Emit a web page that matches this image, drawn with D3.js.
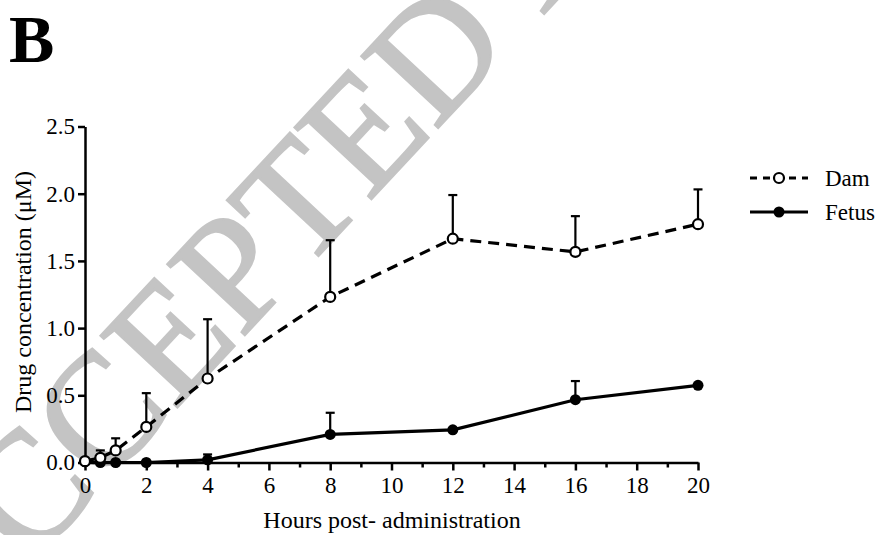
<!DOCTYPE html>
<html>
<head>
<meta charset="utf-8">
<script src="https://cdn.jsdelivr.net/npm/d3@7/dist/d3.min.js"></script>
<style>
  html, body { margin: 0; padding: 0; background: #fff; }
  svg { display: block; }
</style>
</head>
<body>
<svg id="chart" width="878" height="535"></svg>
<script>
// ---- data ----
const hours = [0, 0.5, 1, 2, 4, 8, 12, 16, 20];
const damMean = [0.01, 0.035, 0.09, 0.265, 0.625, 1.232, 1.665, 1.567, 1.773];
const damErrTop = [0.02, 0.09, 0.18, 0.516, 1.066, 1.654, 1.99, 1.833, 2.032];
const fetusMean = [0.005, 0.0, 0.0, 0.0, 0.02, 0.209, 0.243, 0.467, 0.574];
const fetusErrTop = [null, null, null, null, 0.06, 0.37, null, 0.606, null];
const xTicks = [0, 2, 4, 6, 8, 10, 12, 14, 16, 18, 20];
const xMinorTicks = [1, 3, 5, 7, 9, 11, 13, 15, 17, 19];
const yTicks = [0.0, 0.5, 1.0, 1.5, 2.0, 2.5];
const seriesNames = ["Dam", "Fetus"];
const panelLabel = "B";
const xTitle = "Hours post- administration";
const yTitle = "Drug concentration (\u03bcM)";
const watermark = "ACCEPTED MANUSCRIPT";

const SERIF = "'Liberation Serif', 'Times New Roman', Times, 'DejaVu Serif', serif";
const svg = d3.select("#chart");

function txt(sel) {
  return sel.style("font-family", SERIF);
}

// watermark
txt(svg.append("text")
  .attr("transform", "translate(-50,651) rotate(-47)")
  .attr("font-size", 160)
  .attr("fill", "#c4c4c4")
  .attr("stroke", "#c4c4c4")
  .attr("stroke-width", 2.5))
  .text(watermark);

const x = d3.scaleLinear().domain([0, 20]).range([85, 698]);
const y = d3.scaleLinear().domain([0, 2.5]).range([462.5, 126.5]);

// panel label
txt(svg.append("text").attr("x", 9).attr("y", 62)
  .attr("font-size", 68).attr("font-weight", "bold")).text(panelLabel);

// axes
const xAxis = svg.append("g").attr("transform", `translate(0,${y(0)})`)
  .call(d3.axisBottom(x).tickValues(xTicks).tickFormat(d3.format("d")).tickSize(8).tickPadding(6).tickSizeOuter(0));
const xMinor = svg.append("g").attr("transform", `translate(0,${y(0)})`)
  .call(d3.axisBottom(x).tickValues(xMinorTicks).tickFormat("").tickSize(5).tickSizeOuter(0));
xMinor.select(".domain").remove();
const yAxis = svg.append("g").attr("transform", `translate(${x(0)},0)`)
  .call(d3.axisLeft(y).tickValues(yTicks).tickFormat(d3.format(".1f")).tickSize(7).tickPadding(3).tickSizeOuter(0));

[xAxis, xMinor, yAxis].forEach(g => {
  g.attr("font-family", null).attr("font-size", null);
  g.selectAll(".domain").attr("stroke", "#000").attr("stroke-width", 2.5);
  g.selectAll(".tick line").attr("stroke", "#000").attr("stroke-width", 2.5);
  txt(g.selectAll(".tick text").attr("fill", "#000").attr("font-size", 23));
});

txt(svg.append("text").attr("x", 392).attr("y", 528).attr("text-anchor", "middle")
  .attr("font-size", 24)).text(xTitle);
txt(svg.append("text").attr("transform", "translate(31,292) rotate(-90)")
  .attr("text-anchor", "middle").attr("font-size", 24)).text(yTitle);

const line = d3.line().x(d => x(d[0])).y(d => y(d[1]));
const damPts = hours.map((h, i) => [h, damMean[i], damErrTop[i]]);
const fetPts = hours.map((h, i) => [h, fetusMean[i], fetusErrTop[i]]);

function errorBars(pts) {
  const g = svg.append("g").attr("stroke", "#000").attr("stroke-width", 2.2);
  pts.filter(p => p[2] != null).forEach(p => {
    g.append("line").attr("x1", x(p[0])).attr("x2", x(p[0])).attr("y1", y(p[1])).attr("y2", y(p[2]));
    g.append("line").attr("x1", x(p[0]) - 4.5).attr("x2", x(p[0]) + 4.5).attr("y1", y(p[2])).attr("y2", y(p[2]));
  });
}
errorBars(fetPts);
errorBars(damPts);

svg.append("path").datum(fetPts).attr("d", line).attr("fill", "none")
  .attr("stroke", "#000").attr("stroke-width", 3.2);
svg.append("path").datum(damPts).attr("d", line).attr("fill", "none")
  .attr("stroke", "#000").attr("stroke-width", 3.2).attr("stroke-dasharray", "11,7");

svg.append("g").selectAll("circle").data(fetPts).join("circle")
  .attr("cx", d => x(d[0])).attr("cy", d => y(d[1])).attr("r", 5.5).attr("fill", "#000");
svg.append("g").selectAll("circle").data(damPts).join("circle")
  .attr("cx", d => x(d[0])).attr("cy", d => y(d[1])).attr("r", 5).attr("fill", "#fff")
  .attr("stroke", "#000").attr("stroke-width", 2.2);

// legend
const legend = [
  { name: seriesNames[0], y: 178, dash: "7,6", open: true },
  { name: seriesNames[1], y: 212, dash: null, open: false }
];
legend.forEach(l => {
  const p = svg.append("path").attr("d", `M750,${l.y}H808`).attr("stroke", "#000")
    .attr("stroke-width", 3.2).attr("fill", "none");
  if (l.dash) p.attr("stroke-dasharray", l.dash);
  svg.append("circle").attr("cx", 779).attr("cy", l.y).attr("r", l.open ? 5 : 5.5)
    .attr("fill", l.open ? "#fff" : "#000").attr("stroke", "#000").attr("stroke-width", l.open ? 2.2 : 0);
  txt(svg.append("text").attr("x", 825).attr("y", l.y + 8).attr("font-size", 23)).text(l.name);
});
</script>
</body>
</html>
